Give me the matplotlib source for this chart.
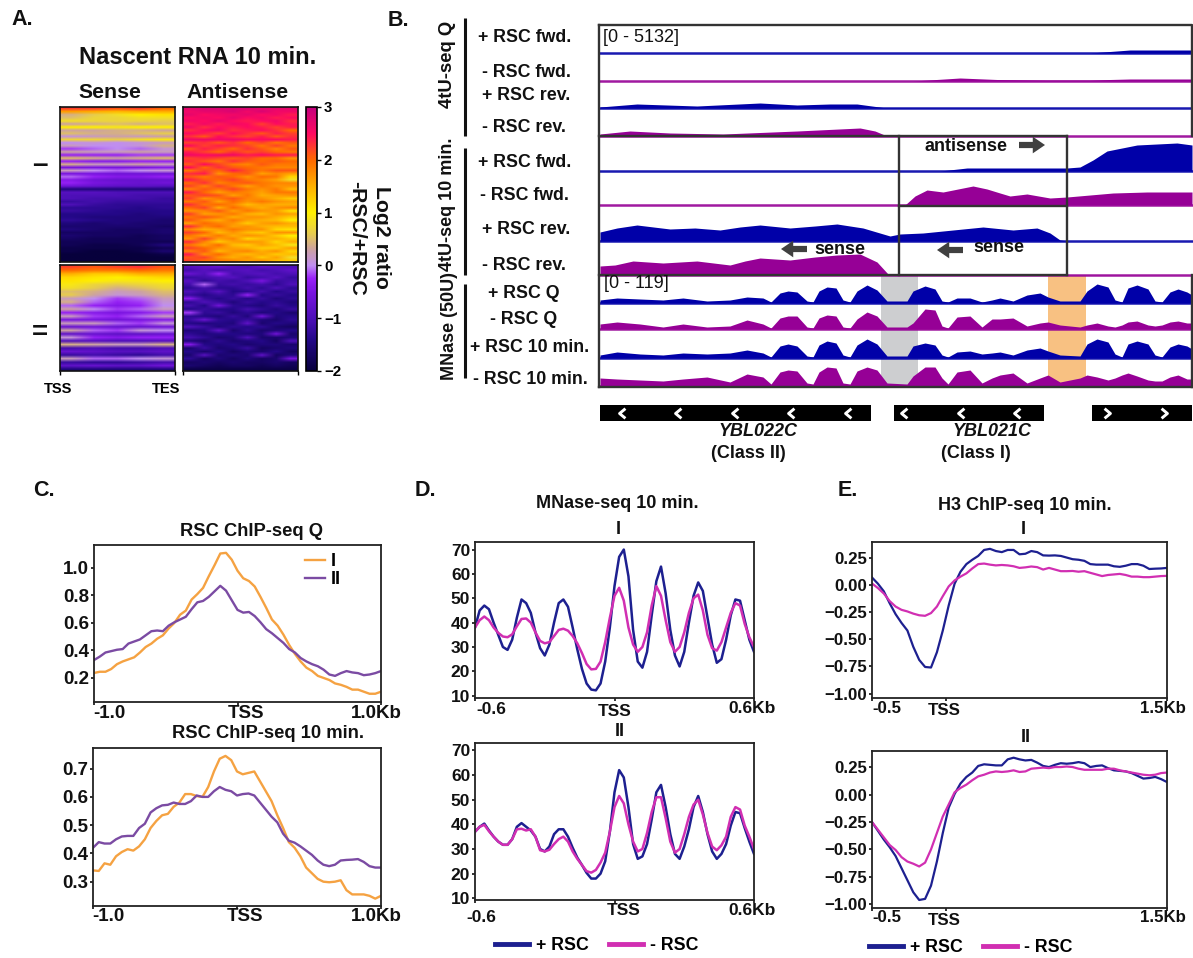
import matplotlib
matplotlib.use("Agg")
import matplotlib.pyplot as plt
import numpy as np
from matplotlib.colors import LinearSegmentedColormap
from matplotlib.path import Path
from matplotlib.transforms import ScaledTranslation

plt.rcParams['font.family'] = ['Liberation Sans', 'DejaVu Sans']
plt.rcParams['font.weight'] = 'bold'

W, H = 1193, 958

# ---------- Panel A values (log2 ratio, rows top to bottom, TSS to TES) ----------
SENSE_TOP = [
 [2.2,2.2,2.1,2.2,2.0],[1.6,1.5,1.4,1.5,1.5],[0.4,0.6,0.8,1.0,1.1],[0.5,0.7,0.7,0.8,0.8],[0.8,0.7,0.7,0.7,0.6],
 [0.3,0.4,0.5,0.4,0.5],[1.0,1.0,0.9,1.0,1.0],[0.3,0.3,0.4,0.4,0.3],[0.5,0.4,0.4,0.5,0.6],[0.1,0.2,0.3,0.2,0.3],
 [0.7,0.7,0.6,0.8,0.9],[0.0,0.1,0.0,0.1,0.2],[0.2,0.0,0.0,0.1,0.4],[-0.2,-0.1,0.0,-0.1,0.1],[0.3,0.2,0.2,0.3,0.2],
 [-0.3,-0.3,-0.3,-0.2,-0.2],[0.5,0.4,0.3,0.4,0.5],[-0.3,-0.4,-0.4,-0.3,-0.3],[0.4,0.2,0.2,0.3,0.2],[-0.5,-0.5,-0.5,-0.5,-0.4],
 [0.2,0.0,-0.1,0.0,0.1],[-0.5,-0.5,-0.6,-0.6,-0.6],[-0.1,-0.3,-0.4,-0.4,-0.3],[-0.4,-0.6,-0.7,-0.7,-0.7],[-0.3,-0.5,-0.6,-0.7,-0.6],
 [-0.6,-0.7,-0.8,-0.8,-0.9],[-1.5,-1.5,-1.5,-1.5,-1.5],[-0.9,-0.9,-1.0,-1.0,-1.0],[-1.0,-1.0,-1.0,-1.1,-1.1],[-1.0,-1.1,-1.1,-1.1,-1.2],
 [-1.2,-1.1,-1.2,-1.2,-1.2],[-1.0,-1.2,-1.3,-1.3,-1.3],[-1.3,-1.3,-1.3,-1.4,-1.3],[-1.2,-1.3,-1.4,-1.4,-1.4],[-1.4,-1.4,-1.4,-1.5,-1.4],
 [-1.4,-1.5,-1.5,-1.5,-1.5],[-1.3,-1.4,-1.5,-1.5,-1.6],[-1.5,-1.6,-1.5,-1.6,-1.6],[-1.6,-1.6,-1.6,-1.6,-1.7],[-1.5,-1.6,-1.7,-1.7,-1.6],
 [-1.7,-1.7,-1.7,-1.7,-1.6],[-1.6,-1.7,-1.7,-1.8,-1.7],[-1.7,-1.8,-1.8,-1.8,-1.7],[-1.8,-1.8,-1.8,-1.8,-1.8],[-1.8,-1.9,-1.9,-1.8,-1.5],
 [-1.9,-1.9,-1.9,-1.9,-1.8],[-1.9,-2.0,-2.0,-1.9,-1.6],[-2.0,-2.0,-2.0,-2.0,-1.9],[-2.0,-2.0,-2.0,-2.0,-2.0],[-2.0,-2.0,-2.0,-2.0,-2.0],
]
ANTI_TOP = [
 [2.7,2.8,2.8,2.8,2.8,2.7,2.7,2.7],[2.6,2.7,2.7,2.8,2.6,2.8,2.6,2.6],[2.7,2.5,2.6,2.6,2.7,2.5,2.6,2.4],[2.5,2.6,2.5,2.7,2.5,2.6,2.4,2.5],
 [2.6,2.5,2.7,2.5,2.4,2.5,2.6,2.3],[2.4,2.6,2.4,2.6,2.5,2.2,2.5,2.4],[2.6,2.3,2.5,2.4,2.5,2.4,2.2,2.4],[2.3,2.5,2.6,2.3,2.4,2.5,2.3,2.0],
 [2.5,2.4,2.2,2.5,2.3,2.1,2.4,2.2],[2.3,2.1,2.5,2.3,2.2,2.4,2.1,2.3],[2.6,2.6,2.6,2.6,2.5,2.5,2.5,2.4],[2.2,2.3,2.1,2.3,2.0,2.2,1.9,2.1],
 [2.5,2.2,2.4,2.3,2.2,1.9,2.2,1.9],[2.1,2.4,2.2,2.0,2.3,2.1,1.8,2.1],[2.4,2.2,2.0,2.3,2.1,2.2,2.0,1.9],[2.6,2.5,2.6,2.6,2.4,2.5,2.4,2.4],
 [2.2,2.3,2.2,2.1,2.2,2.0,2.0,1.7],[2.3,2.1,1.9,2.3,2.1,2.0,2.1,2.0],[2.1,2.5,2.2,1.9,1.8,2.1,1.9,1.9],[2.5,2.0,2.3,2.1,2.0,1.9,1.8,1.8],
 [1.9,2.2,2.0,2.4,2.1,1.9,2.1,2.1],[2.3,2.4,1.7,2.0,2.1,1.6,1.8,1.6],[2.1,1.9,2.1,2.0,1.7,2.0,1.9,1.2],[2.4,2.1,2.0,2.2,1.9,1.8,1.6,0.8],
 [2.0,2.3,1.8,2.0,2.1,1.9,1.8,1.8],[2.2,1.8,2.2,1.9,1.6,1.9,1.7,1.7],[1.8,2.1,1.9,2.2,1.9,1.7,1.9,1.4],[2.4,2.0,1.6,1.9,1.8,1.6,1.9,1.9],
 [2.1,2.2,2.1,1.6,1.9,1.5,1.6,1.7],[2.2,1.7,1.9,2.1,1.8,1.7,1.5,1.3],[1.9,2.1,1.6,2.0,1.7,1.9,1.7,1.6],[2.3,1.9,2.0,1.8,1.4,1.6,1.5,1.5],
 [2.0,2.2,1.5,2.0,1.7,1.5,1.7,1.8],[1.7,1.8,2.1,1.6,1.9,1.7,1.6,1.1],[2.2,1.6,1.7,1.9,1.5,1.4,1.7,1.6],[1.9,2.1,1.9,1.5,1.7,1.7,1.5,1.3],
 [2.1,1.7,1.5,1.9,1.6,1.5,1.4,1.0],[1.6,2.0,1.8,1.7,1.3,1.6,1.7,1.5],[2.3,1.8,2.0,1.6,1.7,1.5,1.4,1.4],[1.8,1.5,1.6,1.9,1.7,1.7,1.2,1.1],
 [2.2,2.0,1.4,1.7,1.4,1.3,1.7,1.7],[1.9,1.6,1.9,1.5,1.7,1.6,1.3,1.0],[1.7,2.2,1.6,1.8,1.2,1.4,1.5,1.3],[2.3,1.8,1.3,1.6,1.7,1.6,1.2,1.5],
 [1.9,1.6,2.0,1.4,1.3,1.6,1.4,0.9],[2.2,2.0,1.7,1.6,1.5,1.3,1.3,1.6],[1.8,2.1,1.4,1.7,1.8,1.5,1.7,1.2],[2.4,1.7,2.0,1.6,1.4,1.6,1.3,1.4],
 [2.1,2.2,1.7,1.5,1.7,1.3,1.6,0.8],[2.2,2.0,1.9,1.8,1.6,1.7,1.4,1.3],
]
SENSE_BOT = [
 [2.2,2.1,2.2,2.3,2.1],[2.0,1.9,1.9,2.0,1.9],[1.5,1.3,1.3,1.5,1.5],[1.2,1.1,1.0,1.1,1.2],[1.1,1.0,0.9,0.9,1.0],
 [0.9,0.7,0.6,0.7,0.8],[0.8,0.6,0.4,0.5,0.7],[0.5,0.4,0.2,0.3,0.5],[0.6,0.3,0.1,0.2,0.4],[0.2,0.0,-0.2,-0.1,0.2],
 [0.4,-0.1,-0.3,-0.2,0.1],[-0.1,-0.3,-0.4,-0.3,0.0],[0.3,0.0,-0.2,-0.1,0.2],[-0.3,-0.4,-0.5,-0.4,-0.2],[0.2,-0.2,-0.3,-0.1,0.2],
 [-0.5,-0.5,-0.6,-0.5,-0.4],[0.2,0.2,-0.1,-0.2,0.1],[-0.7,-0.6,-0.7,-0.7,-0.6],[0.3,-0.1,-0.2,0.1,0.0],[-0.8,-0.7,-0.8,-0.8,-0.7],
 [0.1,-0.3,-0.4,-0.3,-0.3],[-1.0,-0.9,-1.0,-1.0,-0.9],[0.4,0.3,0.2,0.2,0.4],[-1.1,-1.0,-1.1,-1.1,-1.0],[-0.7,-0.8,-0.9,-0.9,-0.8],
 [-1.2,-1.1,-1.2,-1.3,-1.1],[0.2,-0.1,-0.1,0.0,0.1],[-1.2,-1.3,-1.3,-1.2,-1.1],[-0.8,-0.7,-0.8,-0.8,-0.6],[-1.5,-1.5,-1.5,-1.5,-1.5],
]
ANTI_BOT = [
 [-0.9,-0.8,-0.7,-0.9,-1.0,-0.8,-0.9,-1.0],[-1.1,-0.9,-1.1,-1.0,-0.9,-1.1,-1.0,-0.8],[-0.7,-1.0,-0.3,-1.1,-1.0,-0.9,-1.1,-1.0],[-1.2,-1.1,-1.0,-0.9,-1.2,-1.1,-0.9,-1.2],
 [-0.9,-1.3,-1.1,-1.2,-1.0,-0.5,-1.2,-1.1],[-1.1,-0.1,-1.2,-1.1,-1.2,-1.1,-1.3,-1.0],[-1.3,-1.1,-1.3,-1.3,-1.1,-1.3,-1.0,-1.3],[-1.0,-1.2,-0.9,-1.4,-1.3,-1.1,-1.4,-1.2],
 [-1.2,-1.4,-1.2,-1.3,-0.3,-1.4,-1.2,-1.4],[-0.4,-1.2,-1.4,-1.2,-1.4,-1.2,-1.5,-1.3],[-1.3,-1.0,-1.2,-1.5,-1.2,-1.4,-1.3,-1.5],[-1.1,-1.4,-0.6,-1.3,-1.4,-1.5,-1.2,-1.4],
 [-1.4,-1.2,-1.4,-1.4,-1.1,-1.3,-1.5,-1.2],[-0.2,-1.3,-1.2,-1.5,-1.3,-1.5,-1.4,-1.6],[-1.3,-1.4,-1.5,-1.2,-1.5,-0.6,-1.5,-1.4],[-1.2,-0.7,-1.3,-1.4,-1.2,-1.5,-1.6,-1.3],
 [-1.4,-1.5,-1.4,-1.5,-0.8,-1.6,-1.4,-1.5],[-1.0,-1.2,-1.5,-1.3,-1.4,-1.3,-1.6,-1.7],[-1.5,-1.4,-0.8,-1.6,-1.3,-1.6,-1.5,-1.4],[-1.3,-1.5,-1.4,-1.4,-1.5,-1.5,-0.6,-1.6],
 [-1.1,-1.3,-1.6,-1.5,-1.0,-1.6,-1.6,-1.5],[-1.5,-1.6,-1.3,-1.6,-1.5,-1.4,-1.7,-1.0],[-0.4,-1.4,-1.5,-1.4,-1.6,-1.5,-1.5,-1.6],[-1.6,-1.2,-1.6,-1.5,-1.2,-1.7,-1.6,-1.5],
 [-1.4,-1.6,-1.4,-1.7,-1.5,-1.6,-1.4,-1.7],[-1.6,-0.9,-1.6,-1.5,-1.6,-0.8,-1.7,-1.5],[-1.3,-1.7,-1.5,-1.7,-1.5,-1.7,-1.6,-0.5],[-1.7,-1.6,-1.7,-1.6,-1.7,-1.7,-1.6,-1.7],
 [-1.6,-1.7,-1.8,-1.7,-1.7,-1.8,-1.7,-1.8],[-1.9,-1.9,-1.9,-1.9,-1.9,-1.9,-1.9,-1.9],
]
CBAR_TICKS = [-2, -1, 0, 1, 2, 3]

# ---------- Panel B values (browser position, signal height) ----------
Q_FWD_PLUS_X = [600, 1090, 1130, 1177, 1192]
Q_FWD_PLUS = [0, 0, 3, 3, 3]
Q_FWD_MINUS_X = [600, 913, 960, 997, 1047, 1090, 1130, 1192]
Q_FWD_MINUS = [0, 0, 3, 1.5, 1, 1, 2, 2]
Q_REV_PLUS_X = [600, 637, 697, 760, 797, 830, 857, 883, 1192]
Q_REV_PLUS = [1, 4, 2, 5, 3, 4, 4, 0.5, 0]
Q_REV_MINUS_X = [600, 630, 670, 723, 797, 860, 875, 887, 1192]
Q_REV_MINUS = [2, 5, 3, 2, 5, 8, 5, 0, 0]
T10_FWD_PLUS_X = [600, 940, 967, 1067, 1080, 1093, 1107, 1122, 1137, 1157, 1177, 1192]
T10_FWD_PLUS = [0, 0, 3, 3, 4, 11, 20, 23, 26, 27, 28, 26]
T10_FWD_MINUS_X = [600, 905, 915, 927, 943, 958, 973, 987, 1000, 1010, 1027, 1050, 1067, 1090, 1113, 1147, 1192]
T10_FWD_MINUS = [0, 0, 9, 15, 13, 16, 19, 16, 12, 9, 11, 7, 8, 10, 12, 13, 13]
T10_REV_PLUS_X = [600, 617, 637, 670, 695, 720, 740, 760, 790, 815, 837, 863, 890, 900, 923, 943, 983, 1013, 1037, 1050, 1060, 1067, 1192]
T10_REV_PLUS = [9, 13, 16, 12, 13, 11, 14, 16, 13, 15, 17, 13, 5, 7, 8, 10, 14, 11, 13, 8, 1, 0, 0]
T10_REV_MINUS_X = [600, 615, 633, 663, 697, 730, 745, 760, 790, 815, 837, 860, 877, 888, 1192]
T10_REV_MINUS = [9, 10, 14, 12, 14, 10, 14, 17, 15, 18, 20, 21, 13, 1, 0]
MN_X = [600,617,640,663,683,707,730,747,763,771,780,788,797,807,813,819,827,836,843,850,857,867,877,887,907,
        913,925,935,942,948,957,970,982,992,1000,1013,1027,1040,1048,1060,1080,1087,1097,1108,1115,1122,1128,
        1137,1148,1155,1162,1170,1178,1187,1192]
MN_Q_PLUS = [3,5,4,3,5,2,3,6,5,1,10,12,11,2,1,12,16,15,3,1,12,18,13,2,2,12,17,14,2,1,5,5,1,3,5,2,8,10,6,2,2,12,19,16,3,1,15,18,14,2,1,11,14,11,8]
MN_Q_MINUS = [5,7,5,2,5,2,3,9,5,1,11,13,13,2,1,11,14,13,2,1,10,17,13,2,2,6,20,19,3,1,12,13,2,10,10,11,3,6,7,4,2,4,6,3,2,4,7,8,4,3,4,7,8,6,6]
MN_10_PLUS = [3,6,4,3,5,4,5,8,5,1,12,14,12,2,1,13,17,15,3,1,13,19,14,2,2,12,15,13,3,1,6,7,4,5,6,3,8,10,7,3,2,14,19,16,4,1,14,17,14,3,1,11,14,12,9]
MN_10_MINUS = [8,7,6,5,7,9,4,12,9,2,14,16,15,3,2,14,19,18,3,2,15,19,16,3,2,10,19,19,8,2,14,16,3,8,11,13,3,8,11,4,8,11,9,6,8,11,13,10,6,5,5,9,11,7,7]
TRACK_NAMES_TOP = ['+ RSC fwd.', '- RSC fwd.', '+ RSC rev.', '- RSC rev.']
TRACK_NAMES_MN = ['+ RSC Q', '- RSC Q', '+ RSC 10 min.', '- RSC 10 min.']

# ---------- Panel C values (51 bins, -1 to 1 kb) ----------
C1_I = [.236,.245,.245,.265,.3,.32,.335,.35,.385,.425,.45,.485,.51,.56,.6,.66,.69,.77,.81,.855,.94,1.02,1.105,1.11,1.06,.98,.925,.905,.865,.79,.71,.625,.58,.515,.44,.375,.32,.275,.25,.215,.2,.185,.16,.15,.135,.115,.115,.1,.085,.085,.1]
C1_II = [.33,.355,.385,.395,.405,.41,.45,.465,.48,.51,.54,.545,.54,.58,.605,.625,.645,.7,.75,.76,.79,.83,.87,.835,.765,.695,.675,.68,.65,.605,.555,.525,.49,.455,.41,.385,.345,.32,.3,.285,.26,.225,.215,.235,.25,.24,.235,.22,.225,.235,.25]
C2_I = [.34,.338,.365,.36,.39,.405,.415,.41,.425,.45,.49,.515,.535,.54,.565,.58,.61,.61,.603,.6,.635,.69,.735,.745,.73,.69,.68,.685,.69,.655,.62,.585,.535,.49,.44,.42,.39,.35,.33,.31,.3,.298,.3,.305,.27,.255,.255,.255,.25,.24,.25]
C2_II = [.42,.44,.435,.435,.45,.46,.462,.462,.49,.505,.545,.56,.57,.572,.58,.575,.575,.585,.605,.6,.6,.62,.635,.625,.62,.605,.61,.612,.605,.58,.555,.53,.51,.47,.445,.438,.425,.41,.395,.375,.36,.355,.36,.375,.377,.378,.38,.37,.355,.35,.35]
C_X = np.linspace(-1, 1, 51)

# ---------- Panel D values (61 bins, -0.6 to 0.6 kb) ----------
D1_P = [38,45,47,45.5,40,35,30,28.8,33,42,49.5,48,44,36,29.5,26.5,31,40,48,49.5,46.5,38,29,21,15,12.5,12.2,15,24,38,55,67,70,59,37,24,21.5,28,43,57,63,52,37,26.5,22,28,40,51,56.5,53,42,31,23.5,25,33,43,49.5,49,41,33,28]
D1_M = [38,41,42.5,41,38,35.8,34.3,34,35.2,38.5,41.5,41.7,40,36,32.5,31.5,32,34.5,37,37.5,36.7,34.5,31.5,27.5,23,20.8,21,24,32,42,51,54.3,49,38,31,28,30,36,47,55,51,41,32,28,30,36,44,50,51.5,45,35,29.5,28.5,32,38,44,48,47,39.5,34,30]
D2_P = [37,39,40.3,37.5,35,33,31.7,31.7,34,39,40.5,39,37.5,35,30,29,31,36,38,38,35,30.5,26.5,23.5,20.3,18,18,20,25,37,53,62,59,47,32,26,27,32,42,53,56,47,36,28,26,31,38,47,51.5,45,36,29,26,28,32,39.5,45,44.5,38.5,33,28]
D2_M = [37,39,39.8,37.2,35,33,31.7,31.7,34,38,38.2,37.5,38,35,29.5,29,29.7,32,34,35,33,29,26,23.5,21,20.4,21.5,24.5,28.5,37,47,51.5,48.5,40,33,29,30,36.5,45,51,51,42.5,33,28.5,30,36,43,48,50,44,36.5,31,29.5,31.5,35,43,47,46,39.5,35,30]
D_X = np.linspace(-.6, .6, 61)

# ---------- Panel E values (51 bins, -0.5 to 1.5 kb) ----------
E1_P = [.067,.01,-.06,-.17,-.27,-.35,-.42,-.57,-.69,-.755,-.76,-.62,-.42,-.19,.01,.12,.19,.23,.265,.32,.33,.31,.3,.32,.32,.28,.285,.31,.3,.27,.268,.27,.265,.25,.235,.23,.22,.19,.185,.185,.185,.17,.165,.175,.19,.19,.175,.145,.148,.15,.155]
E1_M = [.012,-.03,-.08,-.15,-.2,-.23,-.245,-.265,-.28,-.285,-.26,-.2,-.105,-.015,.04,.075,.105,.15,.19,.195,.185,.178,.182,.178,.17,.155,.16,.168,.162,.14,.155,.14,.125,.125,.127,.12,.125,.11,.095,.08,.09,.095,.1,.09,.075,.075,.07,.07,.075,.08,.082]
E2_P = [-.251,-.33,-.41,-.48,-.56,-.67,-.78,-.89,-.96,-.95,-.83,-.61,-.35,-.12,.005,.1,.16,.2,.26,.275,.27,.265,.265,.32,.335,.32,.31,.315,.29,.26,.25,.27,.285,.28,.285,.295,.285,.25,.26,.265,.24,.22,.215,.21,.195,.17,.145,.15,.16,.14,.113]
E2_M = [-.251,-.32,-.39,-.46,-.505,-.57,-.61,-.63,-.655,-.62,-.5,-.35,-.2,-.09,.02,.06,.09,.13,.165,.18,.2,.21,.205,.21,.22,.205,.21,.235,.24,.245,.24,.25,.25,.255,.25,.235,.225,.225,.225,.225,.235,.235,.22,.21,.2,.19,.18,.175,.18,.195,.2]
E_X = np.linspace(-.5, 1.5, 51)

ORANGE, PURPLE = '#F5A242', '#7B4BA3'
NAVY, PINK = '#1D2090', '#D12FB2'
TBLUE, TMAG = '#0000A8', '#960096'
EDGE = '#222222'

fig = plt.figure(figsize=(W / 100, H / 100), dpi=100)


def axpx(l, t, r, b, **kw):
    return fig.add_axes([l / W, 1 - b / H, (r - l) / W, (b - t) / H], **kw)


def shift(label, dx, dy):
    label.set_transform(label.get_transform() + ScaledTranslation(dx / 100, -dy / 100, fig.dpi_scale_trans))


ov = axpx(0, 0, W, H, zorder=10)
ov.set_xlim(0, W)
ov.set_ylim(H, 0)
ov.axis('off')
bg = axpx(0, 0, W, H, zorder=-1)
bg.set_xlim(0, W)
bg.set_ylim(H, 0)
bg.axis('off')


def T(x, y, s, size=13, ha='center', va='center', **kw):
    ov.text(x, y, s, fontsize=size, ha=ha, va=va, color='#111111', **kw)


for x, y, s in [(22, 19, 'A.'), (398, 20, 'B.'), (44, 490, 'C.'), (425, 490, 'D.'), (848, 490, 'E.')]:
    T(x, y, s, size=15.5)

# ---------- Panel A ----------
cm = LinearSegmentedColormap.from_list('ratio', [
    (0.00, '#07003C'), (0.12, '#25088A'), (0.20, '#4E10B8'), (0.30, '#7A14E0'), (0.35, '#9A22F8'),
    (0.40, '#C08EF0'), (0.46, '#CDA3A0'), (0.52, '#E6CB50'), (0.60, '#FFF000'), (0.70, '#FFB000'),
    (0.80, '#FF6A00'), (0.90, '#FF0A60'), (1.00, '#C4007E')])
panels = [((60, 107, 175, 262), SENSE_TOP), ((183, 107, 298, 262), ANTI_TOP),
          ((60, 265, 175, 371), SENSE_BOT), ((183, 265, 298, 371), ANTI_BOT)]
for i, (box, data) in enumerate(panels):
    a = axpx(*box)
    im = a.imshow(np.array(data), cmap=cm, vmin=-2, vmax=3, aspect='auto', interpolation='bilinear',
                  interpolation_stage='rgba', extent=(0, 1, 0, 1))
    for s in a.spines.values():
        s.set_linewidth(1.2)
        s.set_color('#111111')
    a.set_yticks([])
    if i >= 2:
        a.set_xticks([0, 1])
        a.tick_params(length=3, width=1)
        if i == 2:
            a.set_xticklabels(['TSS', 'TES'], fontsize=10.5)
            shift(a.get_xticklabels()[0], -2, 2)
            shift(a.get_xticklabels()[1], -9, 2)
        else:
            a.set_xticklabels([])
    else:
        a.set_xticks([])
cax = axpx(306, 107, 317, 371)
cb = fig.colorbar(im, cax=cax, ticks=CBAR_TICKS)
cb.ax.tick_params(labelsize=10.8, length=3, width=1, pad=2)
cb.outline.set_linewidth(1.2)
T(198, 57, 'Nascent RNA 10 min.', size=17)
T(110, 92, 'Sense', size=15.3)
T(238, 92, 'Antisense', size=15.3)
T(40, 165, '\u2013', size=20)
T(40, 333, '=', size=20)
T(382, 237, 'Log2 ratio', size=15.3, rotation=270)
T(357, 238, '-RSC/+RSC', size=15.3, rotation=270)

# ---------- Panel B ----------
bg.axvspan(881, 918, ymin=1 - 386 / H, ymax=1 - 276 / H, color='#CDCED0', lw=0)
bg.axvspan(1048, 1086, ymin=1 - 386 / H, ymax=1 - 276 / H, color='#F8C182', lw=0)
tracks = [
    (53, Q_FWD_PLUS_X, Q_FWD_PLUS, TBLUE), (81, Q_FWD_MINUS_X, Q_FWD_MINUS, TMAG),
    (108, Q_REV_PLUS_X, Q_REV_PLUS, TBLUE), (136, Q_REV_MINUS_X, Q_REV_MINUS, TMAG),
    (171, T10_FWD_PLUS_X, T10_FWD_PLUS, TBLUE), (205, T10_FWD_MINUS_X, T10_FWD_MINUS, TMAG),
    (241, T10_REV_PLUS_X, T10_REV_PLUS, TBLUE), (275, T10_REV_MINUS_X, T10_REV_MINUS, TMAG),
    (303, MN_X, MN_Q_PLUS, TBLUE), (329, MN_X, MN_Q_MINUS, TMAG),
    (358, MN_X, MN_10_PLUS, TBLUE), (386, MN_X, MN_10_MINUS, TMAG),
]
for base, xs, ys, col in tracks:
    a = axpx(600, base - 30, 1192, base, zorder=1)
    a.patch.set_visible(False)
    a.set_xlim(600, 1192)
    a.set_ylim(0, 30)
    a.axis('off')
    a.fill_between(xs, 0, ys, color=col, lw=0)
    a.plot([600, 1192], [0, 0], color=col, lw=1.8, clip_on=False, alpha=.9)

fr = dict(color='#333333', lw=1.7, solid_capstyle='projecting')
ov.plot([599, 599], [25, 387], **fr)
ov.plot([599, 1192, 1192], [25, 25, 136], **fr)
ov.plot([1192, 1192], [275, 387], **fr)
ov.plot([599, 1192], [387, 387], **fr)
ov.plot([599, 1067], [136, 136], **fr)
ov.plot([599, 1067], [275, 275], **fr)
ov.plot([899, 899], [136, 275], **fr)
ov.plot([1067, 1067], [136, 275], **fr)
ov.plot([899, 1067], [206, 206], **fr)
for y0, y1 in [(18, 136), (148, 275), (284, 378)]:
    ov.plot([465, 465], [y0, y1], color='#111111', lw=2.2, solid_capstyle='butt')
T(448, 64, '4tU-seq Q', size=13.3, rotation=90)
T(448, 204, '4tU-seq 10 min.', size=13, rotation=90)
T(449, 326, 'MNase (50U)', size=13, rotation=90)
for (x, y), s in zip([(525, 37), (526, 72), (526, 95), (524, 127)], TRACK_NAMES_TOP):
    T(x, y, s, size=12.8)
for (x, y), s in zip([(525, 162), (524, 195), (526, 229), (524, 266)], TRACK_NAMES_TOP):
    T(x, y, s, size=12.8)
for (x, y), s in zip([(524, 293), (524, 320), (530, 347), (530, 379)], TRACK_NAMES_MN):
    T(x, y, s, size=12.8)
T(603, 37, '[0 - 5132]', size=13, ha='left', fontweight='normal')
T(604, 284, '[0 - 119]', size=13, ha='left', fontweight='normal')
T(966, 146, 'antisense', size=13)
T(840, 249, 'sense', size=13)
T(999, 247, 'sense', size=13)
arrow = dict(arrowstyle='simple,head_width=0.75,head_length=0.55,tail_width=0.28', color='#404040', lw=0, shrinkA=0, shrinkB=0, mutation_scale=16)
ov.annotate('', xy=(1045, 145), xytext=(1019, 145), arrowprops=arrow)
ov.annotate('', xy=(781, 249), xytext=(807, 249), arrowprops=arrow)
ov.annotate('', xy=(937, 250), xytext=(963, 250), arrowprops=arrow)
for x0, x1 in [(600, 871), (894, 1044), (1092, 1192)]:
    ov.fill_between([x0, x1], 405, 421, color='#000000', lw=0)
left_ch = Path([(0.6, 1), (-0.6, 0), (0.6, -1)], [Path.MOVETO, Path.LINETO, Path.LINETO])
right_ch = Path([(-0.6, 1), (0.6, 0), (-0.6, -1)], [Path.MOVETO, Path.LINETO, Path.LINETO])
ov.plot([622, 678, 735, 791, 848, 904, 961, 1017], [413] * 8, ls='none', marker=left_ch, ms=7, mfc='none', mec='white', mew=2.1)
ov.plot([1107, 1164], [413] * 2, ls='none', marker=right_ch, ms=7, mfc='none', mec='white', mew=2.1)
T(758, 431, 'YBL022C', size=13, fontstyle='italic')
T(748, 453, '(Class II)', size=13)
T(992, 431, 'YBL021C', size=13, fontstyle='italic')
T(976, 453, '(Class I)', size=13)


# ---------- line panels ----------
def style(a, yt, ylim, xlim, xt, xl, size, ylabels=None):
    a.set_xlim(*xlim)
    a.set_ylim(*ylim)
    a.set_yticks(yt)
    if ylabels:
        a.set_yticklabels(ylabels)
    a.set_xticks(xt, xl)
    a.tick_params(labelsize=size, length=2.5, width=1.2, pad=1, colors='#111111')
    for s in a.spines.values():
        s.set_linewidth(1.3)
        s.set_color(EDGE)


def offs(a, items):
    for lb, (dx, dy) in zip(a.get_xticklabels(), items):
        shift(lb, dx, dy)


CY1 = [0.2, 0.4, 0.6, 0.8, 1.0]
a = axpx(94, 545, 381, 702)
a.plot(C_X, C1_I, color=ORANGE, lw=1.7, label='I')
a.plot(C_X, C1_II, color=PURPLE, lw=1.7, label='II')
style(a, CY1, (.025, 1.167), (-1, 1), [-1, 0, 1], ['-1.0', 'TSS', '1.0Kb'], 13.5)
offs(a, [(15, -2), (8, -2), (-5, -2)])
a.legend(loc='upper left', bbox_to_anchor=(0.69, 1.03), frameon=False, fontsize=13, handlelength=1.1,
         labelspacing=0.05, handletextpad=0.35, borderpad=0.2)
T(251, 532, 'RSC ChIP-seq Q', size=13.2)

a = axpx(93, 748, 381, 906)
a.plot(C_X, C2_I, color=ORANGE, lw=1.7)
a.plot(C_X, C2_II, color=PURPLE, lw=1.7)
style(a, [.3, .4, .5, .6, .7], (.214, .773), (-1, 1), [-1, 0, 1], ['-1.0', 'TSS', '1.0Kb'], 13.5)
offs(a, [(15, -3), (8, -3), (-5, -3)])
T(268, 734, 'RSC ChIP-seq 10 min.', size=13.2)

DY = [10, 20, 30, 40, 50, 60, 70]
a = axpx(475, 542, 754, 698)
a.plot(D_X, D1_P, color=NAVY, lw=1.8)
a.plot(D_X, D1_M, color=PINK, lw=1.8)
style(a, DY, (9.05, 73.1), (-.6, .6), [-.6, 0, .6], ['-0.6', 'TSS', '0.6Kb'], 12.5)
offs(a, [(16, -1), (0, 1), (-2, -2)])
T(617, 503, 'MNase-seq 10 min.', size=13)
T(618, 529, 'I', size=13)

a = axpx(475, 743, 754, 900)
a.plot(D_X, D2_P, color=NAVY, lw=1.8, label='+ RSC')
a.plot(D_X, D2_M, color=PINK, lw=1.8, label='- RSC')
style(a, DY, (9.3, 73), (-.6, .6), [-.6, 0, .6], ['-0.6', 'TSS', '0.6Kb'], 12.5)
offs(a, [(6, 5), (9, -2), (-2, -2)])
T(620, 731, 'II', size=13)
lg_kw = dict(frameon=False, ncol=2, fontsize=12.8, handlelength=1.9, columnspacing=1.15, handletextpad=0.4, borderpad=0)
a.legend(handles=[plt.Line2D([], [], color=NAVY, lw=3.5, label='+ RSC'), plt.Line2D([], [], color=PINK, lw=3.5, label='- RSC')],
         loc='center', bbox_to_anchor=(597 / W, 1 - 946 / H), bbox_transform=fig.transFigure, **lg_kw)

EY = [-1, -.75, -.5, -.25, 0, .25]
EL = ['\u22121.00', '\u22120.75', '\u22120.50', '\u22120.25', '0.00', '0.25']
a = axpx(872, 542, 1167, 698)
a.plot(E_X, E1_P, color=NAVY, lw=1.6)
a.plot(E_X, E1_M, color=PINK, lw=1.6)
style(a, EY, (-1.04, .393), (-.5, 1.5), [-.5, 0, 1.5], ['-0.5', 'TSS', '1.5Kb'], 12.2, EL)
offs(a, [(15, -2), (-2, 0), (-4, -2)])
T(1025, 506, 'H3 ChIP-seq 10 min.', size=13)
T(1023, 530, 'I', size=13)

a = axpx(872, 751, 1167, 908)
a.plot(E_X, E2_P, color=NAVY, lw=1.6)
a.plot(E_X, E2_M, color=PINK, lw=1.6)
style(a, EY, (-1.033, .396), (-.5, 1.5), [-.5, 0, 1.5], ['-0.5', 'TSS', '1.5Kb'], 12.2, EL)
offs(a, [(15, -3), (-2, 0), (-4, -3)])
T(1026, 738, 'II', size=13)
a.legend(handles=[plt.Line2D([], [], color=NAVY, lw=3.5, label='+ RSC'), plt.Line2D([], [], color=PINK, lw=3.5, label='- RSC')],
         loc='center', bbox_to_anchor=(971 / W, 1 - 948 / H), bbox_transform=fig.transFigure, **lg_kw)

fig.savefig('out.png', dpi=100, facecolor='white')
